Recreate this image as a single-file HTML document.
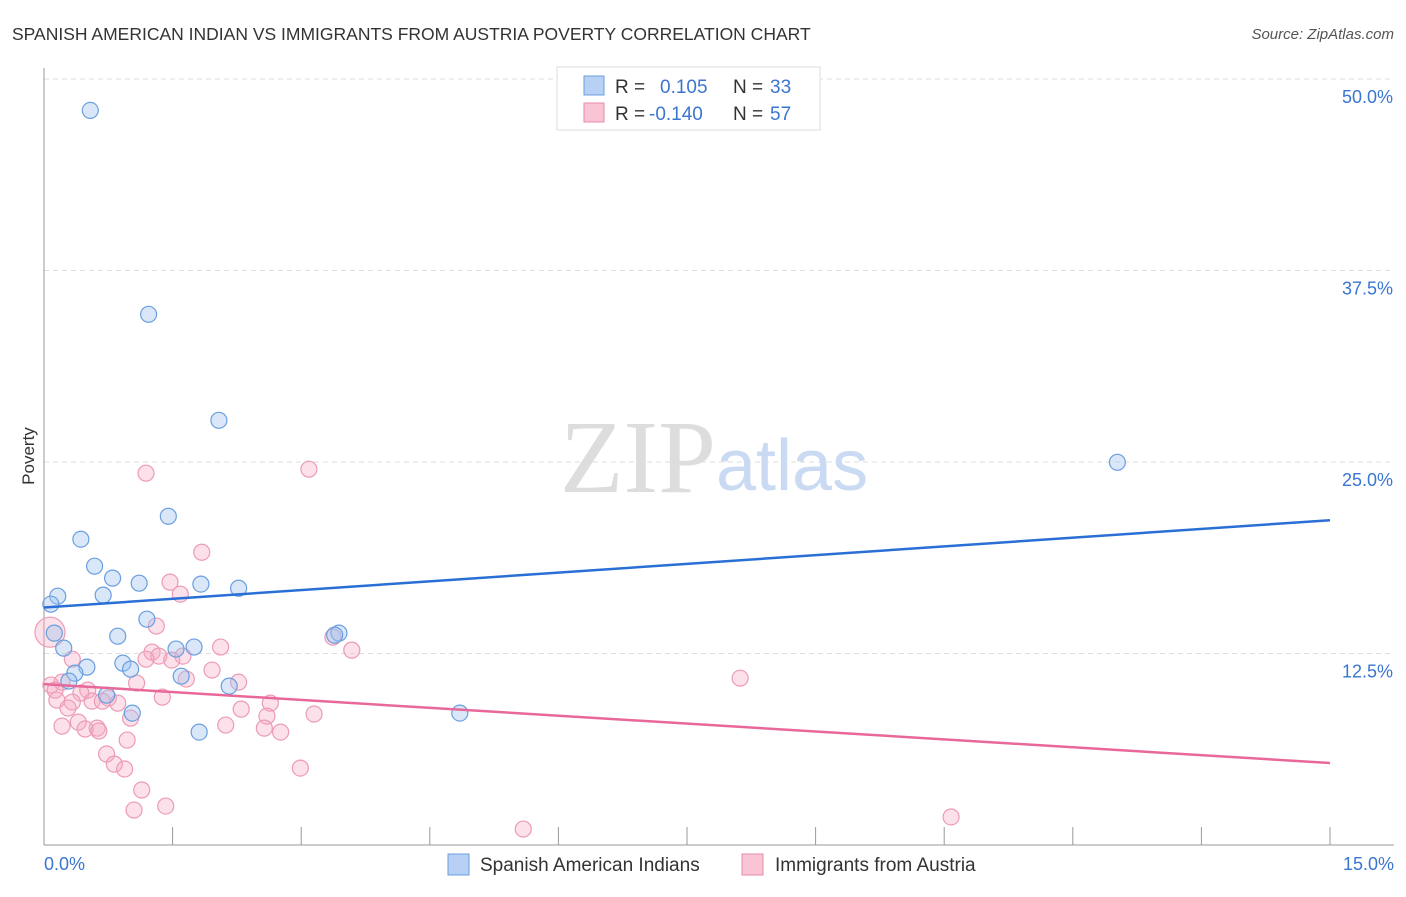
<!DOCTYPE html>
<html><head><meta charset="utf-8"><style>
body{margin:0;background:#fff;font-family:"Liberation Sans",sans-serif;}
svg text{font-family:"Liberation Sans",sans-serif;}
</style></head><body>
<svg id="chart" width="1406" height="892">
<text x="12" y="40" font-size="17.5" fill="#333">SPANISH AMERICAN INDIAN VS IMMIGRANTS FROM AUSTRIA POVERTY CORRELATION CHART</text>
<text x="1394" y="39" font-size="15" fill="#555" font-style="italic" text-anchor="end">Source: ZipAtlas.com</text>
<text x="34" y="456" font-size="17" fill="#333" text-anchor="middle" transform="rotate(-90 34 456)">Poverty</text>
<g id="grid"></g>
<text x="716" y="492" font-size="104" fill="#ddd" text-anchor="end" style="font-family:'Liberation Serif',serif">ZIP</text>
<text x="716" y="490" font-size="72" fill="#c9daf2">atlas</text>
<g id="marks"></g>
<g>
<rect x="557" y="67" width="263" height="63" fill="#fff" stroke="#ddd"/>
<rect x="584" y="76" width="20" height="19" fill="#b7d0f3" stroke="#6a9fdf"/>
<rect x="584" y="103" width="20" height="19" fill="#f9c5d5" stroke="#e88aab"/>
<text x="615" y="93" font-size="19" fill="#333">R =</text><text x="660" y="93" font-size="19" fill="#3a76d0">0.105</text>
<text x="733" y="93" font-size="19" fill="#333">N =</text><text x="770" y="93" font-size="19" fill="#3a76d0">33</text>
<text x="615" y="120" font-size="19" fill="#333">R =</text><text x="649" y="120" font-size="19" fill="#3a76d0">-0.140</text>
<text x="733" y="120" font-size="19" fill="#333">N =</text><text x="770" y="120" font-size="19" fill="#3a76d0">57</text>
</g>
<g>
<rect x="448" y="854" width="21" height="21" fill="#b7d0f3" stroke="#6a9fdf"/>
<text x="480" y="871" font-size="19" fill="#333">Spanish American Indians</text>
<rect x="742" y="854" width="21" height="21" fill="#f9c5d5" stroke="#e88aab"/>
<text x="775" y="871" font-size="19" fill="#333">Immigrants from Austria</text>
</g>
</svg>
<script>
const yTicks=[12.5,25,37.5,50];
const yTickLabels=["12.5%","25.0%","37.5%","50.0%"];
const xTickLabels=["0.0%","15.0%"];
const blueX=[0.54,1.22,2.04,12.52,1.45,0.43,0.59,0.80,1.11,1.83,2.27,0.69,0.16,0.08,1.20,0.12,0.86,3.44,3.39,0.23,1.54,1.75,0.50,0.92,1.01,0.36,1.60,0.29,2.16,0.73,1.03,4.85,1.81];
const blueY=[47.95,34.64,27.72,24.98,21.46,19.96,18.20,17.42,17.09,17.03,16.76,16.31,16.24,15.72,14.74,13.83,13.63,13.83,13.70,12.85,12.79,12.92,11.61,11.87,11.48,11.22,11.02,10.70,10.37,9.78,8.61,8.61,7.37];
const pinkX=[1.19,3.09,1.84,1.47,1.59,1.31,0.07,3.37,2.06,3.59,0.33,1.26,1.34,1.19,1.62,1.49,1.96,8.12,2.27,0.08,0.21,1.08,1.66,0.13,0.51,0.43,0.75,1.38,0.15,0.33,0.56,0.86,0.68,2.64,0.28,2.30,3.15,1.01,2.60,0.40,0.21,2.12,0.62,0.48,0.64,2.57,2.76,0.97,0.73,0.82,0.94,2.99,1.14,1.42,1.05,5.59,10.58];
const pinkY=[24.27,24.53,19.11,17.16,16.37,14.29,13.89,13.57,12.92,12.72,12.13,12.59,12.33,12.13,12.33,12.07,11.42,10.89,10.63,10.44,10.63,10.57,10.83,10.11,10.11,9.92,9.59,9.65,9.46,9.33,9.39,9.26,9.39,9.26,8.94,8.87,8.55,8.28,8.41,8.02,7.76,7.83,7.63,7.57,7.44,7.63,7.37,6.85,5.94,5.28,4.96,5.02,3.59,2.54,2.28,1.04,1.83];
const blueTrend=[15.5,21.2];
const pinkTrend=[10.5,5.35];
const NS="http://www.w3.org/2000/svg";
const sx=v=>44+v*(1286/15);
const sy=v=>845-v*(766/50);
function mk(tag,attrs,parent){const e=document.createElementNS(NS,tag);for(const k in attrs)e.setAttribute(k,attrs[k]);parent.appendChild(e);return e;}
const grid=document.getElementById('grid'),marks=document.getElementById('marks');
yTicks.forEach((t,i)=>{
 const l=mk('line',{x1:44,x2:1394,y1:sy(t),y2:sy(t),stroke:'#ddd','stroke-dasharray':'5,4'},grid);
 
 
 const tx=mk('text',{x:1393,y:sy(t)+24,'font-size':18,fill:'#3a76d0','text-anchor':'end'},grid);
 tx.textContent=yTickLabels[i];
 
 
});
let ax=mk('line',{x1:44,x2:44,y1:68,y2:845,stroke:'#999'},grid);


ax=mk('line',{x1:44,x2:1394,y1:845,y2:845,stroke:'#999'},grid);


for(let i=0;i<=10;i++){const t=mk('line',{x1:sx(i*1.5),x2:sx(i*1.5),y1:827,y2:845,stroke:'#999'},grid);
 
 }
[[0,'start',44],[15,'end',1394]].forEach((d,i)=>{const t=mk('text',{x:d[2],y:870,'font-size':18,fill:'#3a76d0','text-anchor':d[1]},grid);t.textContent=xTickLabels[i];
 
 });
pinkX.forEach((x,i)=>{const c=mk('circle',{cx:sx(x),cy:sy(pinkY[i]),r:i==6?15:8,fill:'rgba(245,170,195,0.35)',stroke:'#ec9bb6','stroke-width':1.2},marks);
 
 });
blueX.forEach((x,i)=>{const c=mk('circle',{cx:sx(x),cy:sy(blueY[i]),r:8,fill:'rgba(160,196,240,0.4)',stroke:'#6a9fdf','stroke-width':1.2},marks);
 
 });
let tl=mk('line',{x1:sx(0),x2:sx(15),y1:sy(blueTrend[0]),y2:sy(blueTrend[1]),stroke:'#2a6fd6','stroke-width':2.5},marks);


tl=mk('line',{x1:sx(0),x2:sx(15),y1:sy(pinkTrend[0]),y2:sy(pinkTrend[1]),stroke:'#e8689a','stroke-width':2.5},marks);


</script>
</body></html>
